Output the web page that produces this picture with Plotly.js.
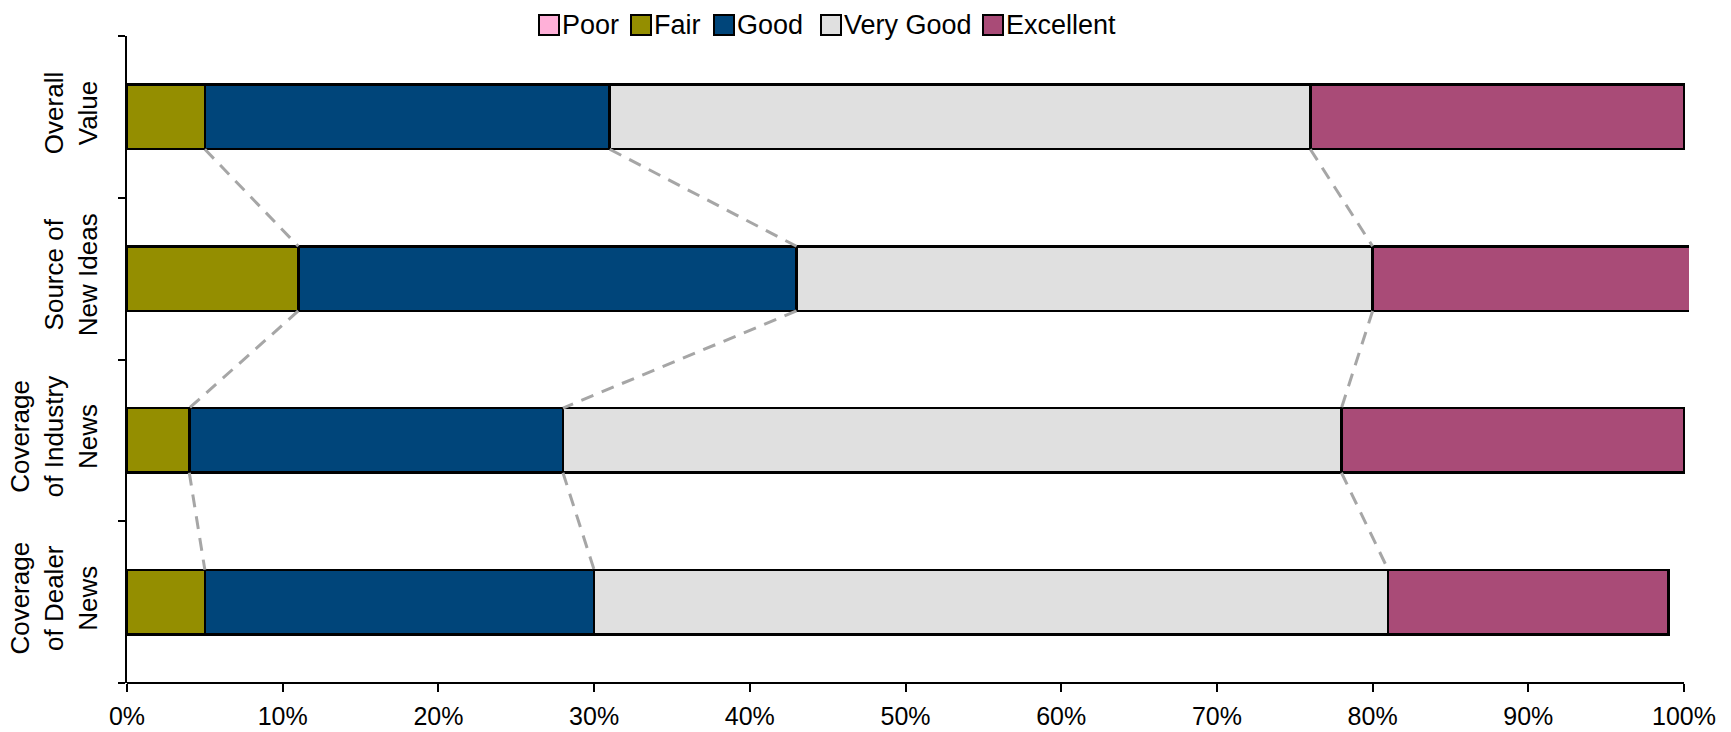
<!DOCTYPE html>
<html>
<head>
<meta charset="utf-8">
<script src="https://cdn.plot.ly/plotly-3.0.1.min.js"></script>
<style>
  html, body { margin: 0; padding: 0; background: #ffffff; }
  #chart { width: 1731px; height: 732px; }
</style>
</head>
<body>
<div id="chart"></div>
<script>
// Survey categories, top to bottom
const categories = [
  'Overall<br>Value',
  'Source of<br>New Ideas',
  'Coverage<br>of Industry<br>News',
  'Coverage<br>of Dealer<br>News'
];

// Rating levels (stack order, left to right)
const ratings = ['Poor', 'Fair', 'Good', 'Very Good', 'Excellent'];

// Share of responses per rating, in percent, one value per category
const poor      = [0, 0, 0, 0];
const fair      = [5, 11, 4, 5];
const good      = [26, 32, 24, 25];
const veryGood  = [45, 37, 50, 51];
const excellent = [24, 21, 22, 18];

// Horizontal axis ticks
const xTickValues = [0, 10, 20, 30, 40, 50, 60, 70, 80, 90, 100];
const xTickLabels = ['0%', '10%', '20%', '30%', '40%', '50%', '60%', '70%', '80%', '90%', '100%'];

const seriesValues = [poor, fair, good, veryGood, excellent];
const seriesColors = ['#FFB0D8', '#948E00', '#00457A', '#E0E0E0', '#A94B77'];

const FONT = '"Liberation Sans", Arial, sans-serif';
const W = 1731, H = 732;
const margin = { l: 127, r: 42, t: 36, b: 49 };
const plotW = W - margin.l - margin.r;
const plotH = H - margin.t - margin.b;
const xMax = 100.32;          // plot area runs a touch past 100%
const barWidth = 0.4;

const rows = categories.map((_, i) => i);

// Stacked bars
const traces = ratings.map((name, k) => ({
  type: 'bar',
  orientation: 'h',
  name: name,
  x: seriesValues[k],
  y: rows,
  width: barWidth,
  marker: { color: seriesColors[k], line: { color: '#000000', width: 2.5 } },
  showlegend: false,
  hoverinfo: 'x+name'
}));

// Running totals at the right edge of each segment
const cumulative = [];
let running = rows.map(() => 0);
seriesValues.forEach(vals => {
  running = running.map((r, i) => r + vals[i]);
  cumulative.push(running.slice());
});

// Dashed series lines joining matching segment boundaries of neighbouring bars
[1, 2, 3].forEach(k => {
  const xs = [], ys = [];
  for (let i = 0; i < rows.length - 1; i++) {
    xs.push(cumulative[k][i], cumulative[k][i + 1], null);
    ys.push(rows[i] + barWidth / 2, rows[i + 1] - barWidth / 2, null);
  }
  traces.push({
    type: 'scatter',
    mode: 'lines',
    x: xs,
    y: ys,
    line: { color: '#A6A6A6', width: 3, dash: '13px,9px' },
    showlegend: false,
    hoverinfo: 'skip'
  });
});

// Pixel -> paper helpers for the legend row above the plot
const toPX = px => (px - margin.l) / plotW;
const toPY = py => (H - margin.b - py) / plotH;

const shapes = [];
const annotations = [];

// Horizontal axis line, ending at the 100% tick
shapes.push({
  type: 'line', xref: 'x', yref: 'paper',
  x0: 0, x1: 100, y0: 0, y1: 0,
  line: { color: '#000000', width: 2 }
});

// Legend entries
const legendLeft = [539, 631, 714, 821, 983];
ratings.forEach((name, k) => {
  const x0 = legendLeft[k];
  shapes.push({
    type: 'rect', xref: 'paper', yref: 'paper',
    x0: toPX(x0), x1: toPX(x0 + 20),
    y0: toPY(35), y1: toPY(15),
    fillcolor: seriesColors[k],
    line: { color: '#000000', width: 2 }
  });
  annotations.push({
    xref: 'paper', yref: 'paper',
    x: toPX(x0 + 21), y: toPY(25),
    xanchor: 'left', yanchor: 'middle',
    text: name, showarrow: false,
    font: { family: FONT, size: 27, color: '#000000' }
  });
});

const layout = {
  width: W,
  height: H,
  margin: margin,
  paper_bgcolor: '#ffffff',
  plot_bgcolor: '#ffffff',
  barmode: 'stack',
  showlegend: false,
  font: { family: FONT, size: 26, color: '#000000' },
  xaxis: {
    range: [0, xMax],
    tickmode: 'array',
    tickvals: xTickValues,
    ticktext: xTickLabels,
    ticks: 'outside',
    ticklen: 8,
    tickwidth: 2,
    tickcolor: '#000000',
    ticklabelstandoff: 3,
    showline: false,
    showgrid: false,
    zeroline: false,
    tickfont: { family: FONT, size: 25, color: '#000000' }
  },
  yaxis: {
    range: [rows.length - 0.5, -0.5],
    tickmode: 'array',
    tickvals: rows,
    ticktext: categories,
    ticks: '',
    tickangle: -90,
    ticklabelstandoff: 18,
    showline: true,
    linecolor: '#000000',
    linewidth: 2,
    showgrid: false,
    zeroline: false,
    tickfont: { family: FONT, size: 26, color: '#000000' },
    minor: {
      tickmode: 'array',
      tickvals: rows.concat([rows.length]).map(v => v - 0.5),
      ticks: 'outside',
      ticklen: 7,
      tickwidth: 2,
      tickcolor: '#000000',
      showgrid: false
    }
  },
  shapes: shapes,
  annotations: annotations
};

Plotly.newPlot('chart', traces, layout, { displayModeBar: false, staticPlot: true });
</script>
</body>
</html>
